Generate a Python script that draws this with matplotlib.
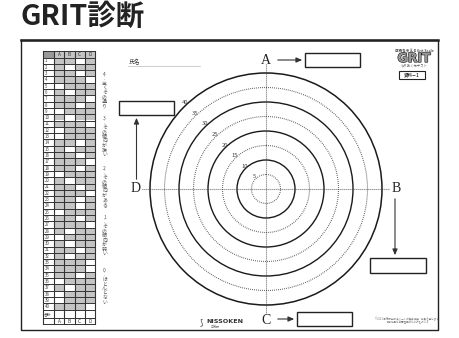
import matplotlib
matplotlib.use('Agg')
import matplotlib.pyplot as plt
import matplotlib.patheffects as pe
from matplotlib.patches import Circle, Rectangle
import numpy as np

plt.rcParams['font.family'] = ['Noto Sans CJK JP', 'DejaVu Sans']

# --- data ---
title = 'GRIT診断'
ring_values = [5, 10, 15, 20, 25, 30, 35, 40]
ring_solid = [False, True, False, True, False, True, False, True]
axis_labels = ['A', 'B', 'C', 'D']
columns = ['A', 'B', 'C', 'D']
question_nums = list(range(1, 41))
# column (0=A .. 3=D) left blank (white) for each question
white_col = [2, 1, 2, 3, 0, 1, 3, 2, 0, 1,
             3, 0, 0, 2, 1, 2, 3, 2, 0, 1,
             2, 3, 2, 2, 0, 2, 3, 1, 0, 1,
             2, 1, 3, 3, 2, 0, 1, 0, 0, 3]
scale_texts = ['4︰全くその通り', '3︰その傾向が強い', '2︰その傾向がある',
               '1︰その傾向が弱い', '0︰ほとんどない']
total_label = '合計'

fig = plt.figure(figsize=(4.6, 3.38), dpi=100)
ax = fig.add_axes([0, 0, 1, 1])
ax.set_xlim(0, 460)
ax.set_ylim(338, 0)
ax.axis('off')

# title
ax.text(21, 17, title, fontsize=20.5, fontweight='bold', color='#222222',
        va='center', ha='left')

# sheet border
ax.plot([21, 438, 438, 21, 21], [40, 40, 330, 330, 40], color='#222222', lw=1.0)
ax.plot([21, 438], [40, 40], color='#222222', lw=1.8)

# --- answer table ---
col_x = [43, 54, 64.3, 74.6, 84.9, 95.2]
y0 = 51
head_h = 6.5
row_h = 6.3
rows_top = y0 + head_h
rows_bot = rows_top + row_h * len(question_nums)
total_bot = rows_bot + 8.5
foot_bot = total_bot + 5.5
gray = '#c4c4c4'
line_c = '#333333'

for j in range(4):
    ax.add_patch(Rectangle((col_x[j + 1], y0), col_x[j + 2] - col_x[j + 1], head_h,
                           facecolor=gray, edgecolor='none'))
    ax.text((col_x[j + 1] + col_x[j + 2]) / 2, y0 + head_h / 2 + 0.3, columns[j],
            fontsize=3.4, ha='center', va='center', color='#333333')
    ax.text((col_x[j + 1] + col_x[j + 2]) / 2, (total_bot + foot_bot) / 2 + 0.3,
            columns[j], fontsize=3.4, ha='center', va='center', color='#333333')
ax.add_patch(Rectangle((col_x[0], y0), col_x[1] - col_x[0], head_h,
                       facecolor='#999999', edgecolor='none'))

for i, q in enumerate(question_nums):
    top = rows_top + i * row_h
    for j in range(4):
        fc = 'white' if white_col[i] == j else gray
        ax.add_patch(Rectangle((col_x[j + 1], top), col_x[j + 2] - col_x[j + 1], row_h,
                               facecolor=fc, edgecolor='none'))
    ax.text(col_x[0] + 1.5, top + row_h / 2 + 0.3, str(q), fontsize=3.2,
            ha='left', va='center', color='#444444')
ax.text(col_x[0] + 1, (rows_bot + total_bot) / 2, total_label, fontsize=2.8,
        ha='left', va='center', color='#444444')

hlines = [y0, rows_top] + [rows_top + k * row_h for k in range(1, len(question_nums) + 1)]
hlines += [total_bot, foot_bot]
for yy in hlines:
    ax.plot([col_x[0], col_x[-1]], [yy, yy], color=line_c, lw=0.7)
for xx in col_x:
    ax.plot([xx, xx], [y0, foot_bot], color=line_c, lw=0.8)

# vertical scale legend
starts = [72, 116, 166, 215, 268]
for s, txt in zip(starts, scale_texts):
    for k, ch in enumerate(txt):
        ax.text(104.5, s + k * 4.5, ch, fontsize=3.5, ha='center', va='top',
                color='#555555')

# name field
ax.text(129, 62, '氏名', fontsize=4.2, ha='left', va='center', color='#333333')
ax.plot([128, 200], [66, 66], color='#bbbbbb', lw=0.5)

# --- rings ---
cx, cy = 266, 189
unit = 116 / 40
for v, solid in zip(ring_values, ring_solid):
    r = v * unit
    if solid:
        ax.add_patch(Circle((cx, cy), r, fill=False, edgecolor='#1a1a1a',
                            lw=1.0 if v < 40 else 1.1))
    else:
        ax.add_patch(Circle((cx, cy), r, fill=False, edgecolor='#444444',
                            lw=0.8, linestyle=(0, (0.7, 1.1))))
    ang = np.deg2rad(133)
    ax.text(cx + (r + 2) * np.cos(ang), cy - (r + 2) * np.sin(ang), str(v),
            fontsize=4.2, ha='center', va='center', color='#444444')

# axes through centre
ax.plot([cx, cx], [64, 313], color='#444444', lw=0.8, linestyle=(0, (0.7, 1.1)))
ax.plot([142, 390], [cy, cy], color='#444444', lw=0.8, linestyle=(0, (0.7, 1.1)))

serif = ['Liberation Serif', 'DejaVu Serif']
label_pos = {'A': (cx, 60), 'B': (396, cy), 'C': (cx, 320), 'D': (136, cy)}
for lab in axis_labels:
    x, y = label_pos[lab]
    ax.text(x, y, lab, fontsize=10, family=serif, ha='center', va='center',
            color='#222222')

# answer boxes and arrows
boxes = {'A': (305, 53, 55, 14), 'B': (370, 258, 56, 15),
         'C': (297, 312, 55, 14), 'D': (119, 100.5, 55, 14.5)}
for lab in axis_labels:
    bx, by, bw, bh = boxes[lab]
    ax.add_patch(Rectangle((bx, by), bw, bh, fill=False, edgecolor='#222222', lw=1.0))
arrow = dict(arrowstyle='-|>,head_length=0.35,head_width=0.15', color='#333333', lw=0.8)
ax.annotate('', xy=(305, 60), xytext=(275, 60), arrowprops=arrow)
ax.annotate('', xy=(297, 319), xytext=(275, 319), arrowprops=arrow)
ax.annotate('', xy=(136.5, 115), xytext=(136.5, 182), arrowprops=arrow)
ax.annotate('', xy=(395, 258), xytext=(395, 196), arrowprops=arrow)

# logo top right
ax.text(414, 51, '成長を支えるGrit Scale', fontsize=2.6, fontweight='bold',
        ha='center', va='center', color='#555555')
ax.text(414, 58.5, 'GRIT', fontsize=9, fontweight='bold', ha='center', va='center',
        color='#999999', family=['DejaVu Sans'],
        path_effects=[pe.withStroke(linewidth=0.9, foreground='#222222')])
ax.text(414, 65.5, 'やり抜く力テスト', fontsize=2.4, ha='center', va='center',
        color='#555555')
ax.add_patch(Rectangle((399, 71), 26, 7.5, fill=False, edgecolor='#222222', lw=0.8))
ax.text(412, 74.9, '資料－1', fontsize=3.2, fontweight='bold', ha='center',
        va='center', color='#333333')

# publisher mark
ax.text(201, 322, '⟆', fontsize=6, ha='center', va='center', color='#333333',
        family=['DejaVu Sans'])
ax.text(206, 321.5, 'NISSOKEN', fontsize=4.6, fontweight='bold', ha='left',
        va='center', color='#333333', family=['DejaVu Sans'])
ax.text(215, 326.5, '日総研', fontsize=2.2, ha='center', va='center', color='#666666')

ax.text(407, 319, '©2021 日総研出版 本シートの無断複製・転載を禁じます', fontsize=1.8,
        ha='center', va='center', color='#777777')
ax.text(408, 322.5, '診断結果は自己理解のためのものです', fontsize=1.8,
        ha='center', va='center', color='#777777')

fig.savefig('out.png', dpi=100)
